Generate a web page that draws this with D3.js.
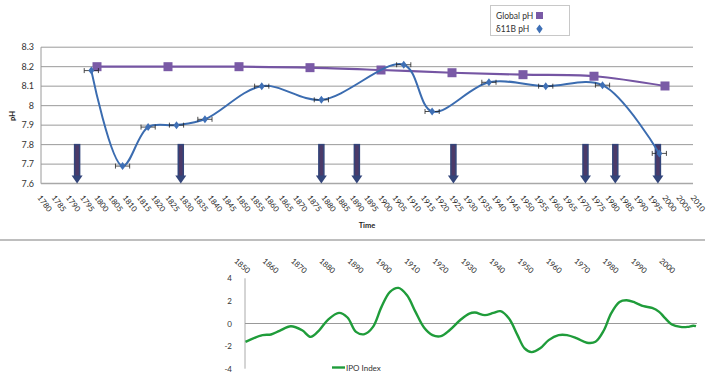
<!DOCTYPE html>
<html><head><meta charset="utf-8">
<script src="https://cdn.jsdelivr.net/npm/d3@7"></script>
<style>body{margin:0;background:#fff}svg{display:block;font-family:Lato,"Open Sans",sans-serif}</style>
</head><body>
<svg id="c" width="709" height="381"></svg>
<script>
// ---- data ----
const globalYears = [1800,1825,1850,1875,1900,1925,1950,1975,2000];
const globalPH    = [8.2,8.2,8.2,8.195,8.183,8.169,8.159,8.151,8.101];
const boronYears  = [1798,1809,1818,1828,1838,1858,1879,1908,1918,1938,1958,1978,1998];
const boronPH     = [8.18,7.69,7.89,7.90,7.93,8.10,8.03,8.21,7.97,8.12,8.10,8.105,7.755];
const boronErr    = 2.5;
const arrowYears  = [1793,1829.5,1879,1891.5,1925.5,1972,1982.5,1997.5];
const pHTicks     = [7.6,7.7,7.8,7.9,8.0,8.1,8.2,8.3];
const timeTicks   = d3.range(1780,2011,5);
const ipoYears = [1853,1859,1862,1865,1869,1873,1876,1879,1882,1886,1889,1892,1895,1898,1901,1904,1907,1910,1913,1916,1919,1922,1925,1929,1932,1934,1937.5,1940.5,1943,1946,1949,1951.5,1954,1957,1960,1963.5,1966.5,1970,1973.5,1976.5,1979.5,1982,1985,1987.5,1990.5,1993.5,1996.5,1999,2001,2003.5,2006.5,2009,2011,2012];
const ipoVals  = [-1.62,-1.03,-0.97,-0.65,-0.24,-0.6,-1.18,-0.6,0.3,0.94,0.53,-0.74,-0.94,-0.3,1.47,2.8,3.15,2.5,1.03,-0.35,-1.03,-1.12,-0.6,0.35,0.88,0.97,0.74,0.94,1.09,0.44,-1.03,-2.2,-2.53,-2.2,-1.47,-1.03,-1.03,-1.32,-1.7,-1.62,-0.6,0.88,1.91,2.06,1.85,1.53,1.38,1.03,0.5,-0.09,-0.3,-0.3,-0.2,-0.24];
const ipoTicksX = d3.range(1850,2001,10);
const ipoTicksY = [-4,-2,0,2,4];

const svg = d3.select('#c');
// ---- top chart ----
const x = d3.scaleLinear().domain([1780,2010]).range([40.2,693.4]);
const y = d3.scaleLinear().domain([7.6,8.3]).range([183.6,47.2]);
const g = svg.append('g');
g.selectAll('.grid').data(pHTicks.slice(1)).join('line')
 .attr('x1',41).attr('x2',693).attr('y1',d=>y(d)).attr('y2',d=>y(d))
 .attr('stroke','#9a9a9a').attr('stroke-width',1);
g.append('line').attr('x1',41).attr('x2',41).attr('y1',y(8.3)).attr('y2',y(7.6)).attr('stroke','#9a9a9a');
g.append('line').attr('x1',41).attr('x2',693).attr('y1',y(7.6)).attr('y2',y(7.6)).attr('stroke','#a8a8a8').attr('stroke-width',1.5);
g.selectAll('.yl').data(pHTicks).join('text')
 .attr('x',34).attr('y',d=>y(d)+3).attr('text-anchor','end').attr('font-size',9).attr('fill','#333')
 .text(d=>d===8?'8':d3.format('.1f')(d));
g.selectAll('.xl').data(timeTicks).join('text')
 .attr('transform',d=>`translate(${x(d)+2},${194}) rotate(53)`)
 .attr('font-size',7.8).attr('fill','#2a2a2a').attr('dominant-baseline','hanging').text(d=>d);
g.append('text').attr('transform','translate(15,116) rotate(-90)').attr('text-anchor','middle')
 .attr('font-size',7.5).attr('font-weight','bold').attr('fill','#222').text('pH');
g.append('text').attr('x',367).attr('y',228).attr('text-anchor','middle')
 .attr('font-size',7.5).attr('font-weight','bold').attr('fill','#222').text('Time');

// arrows
const ag = g.selectAll('.arr').data(arrowYears).join('g').attr('transform',d=>`translate(${x(d)},0)`);
ag.append('rect').attr('x',-2.5).attr('width',5).attr('y',y(7.8)).attr('height',y(7.6)-y(7.8)-7)
 .attr('fill','#4c3a68').attr('stroke','#33457a').attr('stroke-width',1.5);
ag.append('path').attr('d',`M-5.5,${y(7.6)-8} L5.5,${y(7.6)-8} L0,${y(7.6)} Z`).attr('fill','#33457a');

// global pH
const globalData = globalYears.map((d,i)=>[d,globalPH[i]]);
g.append('path').datum(globalData)
 .attr('d',d3.line().x(d=>x(d[0])).y(d=>y(d[1])).curve(d3.curveCatmullRom))
 .attr('fill','none').attr('stroke','#7555a3').attr('stroke-width',2.2);
g.selectAll('.sq').data(globalData).join('rect')
 .attr('x',d=>x(d[0])-4.5).attr('y',d=>y(d[1])-4.5).attr('width',9).attr('height',9).attr('fill','#7a5aa6');

// boron pH
const boronData = boronYears.map((d,i)=>[d,boronPH[i]]);
g.append('path').datum(boronData)
 .attr('d',d3.line().x(d=>x(d[0])).y(d=>y(d[1])).curve(d3.curveCatmullRom))
 .attr('fill','none').attr('stroke','#3b6cb0').attr('stroke-width',2);
const eb = g.selectAll('.eb').data(boronData).join('g');
eb.append('line').attr('x1',d=>x(d[0]-boronErr)).attr('x2',d=>x(d[0]+boronErr)).attr('y1',d=>y(d[1])).attr('y2',d=>y(d[1])).attr('stroke','#222').attr('stroke-width',0.8);
eb.append('line').attr('x1',d=>x(d[0]-boronErr)).attr('x2',d=>x(d[0]-boronErr)).attr('y1',d=>y(d[1])-2.5).attr('y2',d=>y(d[1])+2.5).attr('stroke','#222').attr('stroke-width',0.8);
eb.append('line').attr('x1',d=>x(d[0]+boronErr)).attr('x2',d=>x(d[0]+boronErr)).attr('y1',d=>y(d[1])-2.5).attr('y2',d=>y(d[1])+2.5).attr('stroke','#222').attr('stroke-width',0.8);
eb.append('path').attr('d',d=>`M${x(d[0])},${y(d[1])-4} l3,4 l-3,4 l-3,-4 Z`).attr('fill','#3f70b6');

// legend
const lg = g.append('g');
lg.append('rect').attr('x',490.5).attr('y',5.5).attr('width',79).attr('height',30).attr('fill','#fff').attr('stroke','#c8c8c8');
lg.append('text').attr('x',496).attr('y',19).attr('font-size',8.5).attr('fill','#333').text('Global pH');
lg.append('text').attr('x',496).attr('y',32).attr('font-size',8.5).attr('fill','#333').text('δ11B pH');
lg.append('rect').attr('x',536).attr('y',12).attr('width',7).attr('height',7).attr('fill','#7a5aa6');
lg.append('path').attr('d','M539.5,24.5 l3.2,4.3 l-3.2,4.7 l-3.2,-4.7 Z').attr('fill','#3f70b6');

// separator
svg.append('line').attr('x1',0).attr('x2',705).attr('y1',240).attr('y2',240).attr('stroke','#a8a8a8').attr('stroke-width',1.5);

// ---- bottom chart ----
const x2 = d3.scaleLinear().domain([1850,2000]).range([237,662]);
const y2 = d3.scaleLinear().domain([-4,4]).range([368.7,278.3]);
const b = svg.append('g');
b.append('line').attr('x1',245).attr('x2',245).attr('y1',y2(4)).attr('y2',y2(-4)).attr('stroke','#aaa');
b.append('line').attr('x1',245).attr('x2',697).attr('y1',y2(0)).attr('y2',y2(0)).attr('stroke','#999');
b.selectAll('.yl2').data(ipoTicksY).join('text').attr('x',232).attr('y',d=>y2(d)+3)
 .attr('text-anchor','end').attr('font-size',8).attr('fill','#333').text(d=>d);
b.selectAll('.xl2').data(ipoTicksX).join('text')
 .attr('transform',d=>`translate(${x2(d)+1},${257}) rotate(42)`)
 .attr('font-size',7.8).attr('fill','#2a2a2a').attr('dominant-baseline','hanging').text(d=>d);
const ipoData = ipoYears.map((d,i)=>[d,ipoVals[i]]);
b.append('path').datum(ipoData)
 .attr('d',d3.line().x(d=>x2(d[0])).y(d=>y2(d[1])).curve(d3.curveCatmullRom))
 .attr('fill','none').attr('stroke','#1f9c3a').attr('stroke-width',2.4);
b.append('line').attr('x1',332).attr('x2',345).attr('y1',367.5).attr('y2',367.5).attr('stroke','#1f9c3a').attr('stroke-width',2.4);
b.append('text').attr('x',346).attr('y',370.5).attr('font-size',8).attr('fill','#333').text('IPO Index');
</script>
</body></html>
